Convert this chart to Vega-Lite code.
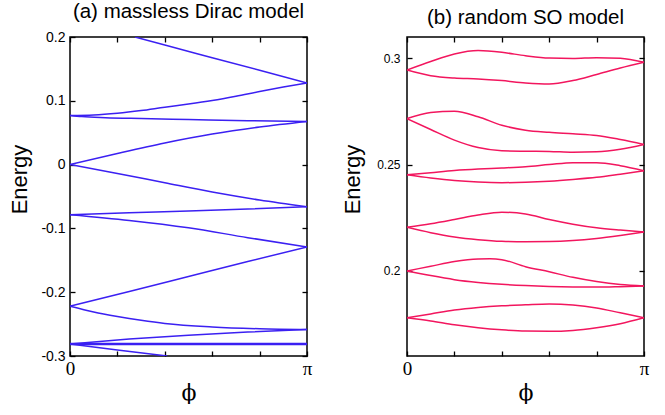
{
  "$schema": "https://vega.github.io/schema/vega-lite/v6.json",
  "padding": {"left": 7, "top": 0, "right": 0, "bottom": 0},
  "background": "white",
  "spacing": 100,
  "bounds": "flush",
  "config": {
    "view": {"stroke": "#000", "strokeWidth": 1.5},
    "axis": {"domain": false, "grid": false, "tickColor": "#000", "tickWidth": 1.3, "labelColor": "#000", "titleColor": "#000", "titleFontWeight": "normal"},
    "title": {"font": "Liberation Sans", "fontSize": 20.5, "fontWeight": "normal", "color": "#000", "anchor": "middle", "offset": 8}
  },
  "datasets": {
    "a": [
      {"s": "L1", "phi": 0.274, "E": 0.2}, {"s": "L1", "phi": 0.4, "E": 0.1874}, {"s": "L1", "phi": 0.6, "E": 0.1676}, {"s": "L1", "phi": 0.8, "E": 0.1478}, {"s": "L1", "phi": 1, "E": 0.128},
      {"s": "L2", "phi": 0, "E": 0.077}, {"s": "L2", "phi": 0.1, "E": 0.0778}, {"s": "L2", "phi": 0.2, "E": 0.0805}, {"s": "L2", "phi": 0.3, "E": 0.0847}, {"s": "L2", "phi": 0.4, "E": 0.09}, {"s": "L2", "phi": 0.5, "E": 0.0948}, {"s": "L2", "phi": 0.6, "E": 0.1003}, {"s": "L2", "phi": 0.7, "E": 0.107}, {"s": "L2", "phi": 0.8, "E": 0.1145}, {"s": "L2", "phi": 0.9, "E": 0.1215}, {"s": "L2", "phi": 1, "E": 0.128},
      {"s": "L3", "phi": 0, "E": 0.077}, {"s": "L3", "phi": 0.05, "E": 0.0752}, {"s": "L3", "phi": 0.15, "E": 0.0735}, {"s": "L3", "phi": 0.3, "E": 0.0722}, {"s": "L3", "phi": 0.5, "E": 0.0707}, {"s": "L3", "phi": 0.75, "E": 0.0688}, {"s": "L3", "phi": 1, "E": 0.0677},
      {"s": "L4", "phi": 0, "E": 0}, {"s": "L4", "phi": 0.2, "E": 0.0175}, {"s": "L4", "phi": 0.4, "E": 0.034}, {"s": "L4", "phi": 0.6, "E": 0.048}, {"s": "L4", "phi": 0.8, "E": 0.059}, {"s": "L4", "phi": 1, "E": 0.0677},
      {"s": "L5", "phi": 0, "E": 0}, {"s": "L5", "phi": 0.2, "E": -0.0138}, {"s": "L5", "phi": 0.4, "E": -0.0285}, {"s": "L5", "phi": 0.6, "E": -0.043}, {"s": "L5", "phi": 0.8, "E": -0.0555}, {"s": "L5", "phi": 1, "E": -0.066},
      {"s": "L6", "phi": 0, "E": -0.0785}, {"s": "L6", "phi": 0.25, "E": -0.0755}, {"s": "L6", "phi": 0.5, "E": -0.0727}, {"s": "L6", "phi": 0.75, "E": -0.0695}, {"s": "L6", "phi": 1, "E": -0.066},
      {"s": "L7", "phi": 0, "E": -0.0785}, {"s": "L7", "phi": 0.25, "E": -0.0875}, {"s": "L7", "phi": 0.5, "E": -0.099}, {"s": "L7", "phi": 0.75, "E": -0.1145}, {"s": "L7", "phi": 1, "E": -0.129},
      {"s": "L8", "phi": 0, "E": -0.222}, {"s": "L8", "phi": 0.25, "E": -0.199}, {"s": "L8", "phi": 0.5, "E": -0.1755}, {"s": "L8", "phi": 0.75, "E": -0.152}, {"s": "L8", "phi": 1, "E": -0.129},
      {"s": "L9", "phi": 0, "E": -0.222}, {"s": "L9", "phi": 0.1, "E": -0.231}, {"s": "L9", "phi": 0.2, "E": -0.238}, {"s": "L9", "phi": 0.3, "E": -0.244}, {"s": "L9", "phi": 0.4, "E": -0.249}, {"s": "L9", "phi": 0.6, "E": -0.2545}, {"s": "L9", "phi": 0.8, "E": -0.2573}, {"s": "L9", "phi": 1, "E": -0.2585},
      {"s": "L10a", "phi": 0, "E": -0.2805}, {"s": "L10a", "phi": 1, "E": -0.2805},
      {"s": "L10b", "phi": 0, "E": -0.2818}, {"s": "L10b", "phi": 1, "E": -0.2818},
      {"s": "L11", "phi": 0, "E": -0.281}, {"s": "L11", "phi": 0.25, "E": -0.2735}, {"s": "L11", "phi": 0.5, "E": -0.2675}, {"s": "L11", "phi": 0.75, "E": -0.2625}, {"s": "L11", "phi": 1, "E": -0.2585},
      {"s": "L12", "phi": 0, "E": -0.281}, {"s": "L12", "phi": 0.2, "E": -0.2905}, {"s": "L12", "phi": 0.41, "E": -0.3}
    ],
    "b": [
      {"s": "R1a", "phi": 0, "E": 0.2945}, {"s": "R1a", "phi": 0.1, "E": 0.2985}, {"s": "R1a", "phi": 0.2, "E": 0.302}, {"s": "R1a", "phi": 0.3, "E": 0.3036}, {"s": "R1a", "phi": 0.4, "E": 0.3028}, {"s": "R1a", "phi": 0.5, "E": 0.3012}, {"s": "R1a", "phi": 0.6, "E": 0.3001}, {"s": "R1a", "phi": 0.7, "E": 0.2999}, {"s": "R1a", "phi": 0.8, "E": 0.3003}, {"s": "R1a", "phi": 0.9, "E": 0.3}, {"s": "R1a", "phi": 1, "E": 0.2981},
      {"s": "R1b", "phi": 0, "E": 0.2945}, {"s": "R1b", "phi": 0.1, "E": 0.2918}, {"s": "R1b", "phi": 0.2, "E": 0.2907}, {"s": "R1b", "phi": 0.3, "E": 0.2903}, {"s": "R1b", "phi": 0.4, "E": 0.2895}, {"s": "R1b", "phi": 0.5, "E": 0.2884}, {"s": "R1b", "phi": 0.6, "E": 0.2879}, {"s": "R1b", "phi": 0.7, "E": 0.2895}, {"s": "R1b", "phi": 0.8, "E": 0.2924}, {"s": "R1b", "phi": 0.9, "E": 0.2954}, {"s": "R1b", "phi": 1, "E": 0.2981},
      {"s": "R2a", "phi": 0, "E": 0.2716}, {"s": "R2a", "phi": 0.1, "E": 0.2745}, {"s": "R2a", "phi": 0.2, "E": 0.2751}, {"s": "R2a", "phi": 0.3, "E": 0.2725}, {"s": "R2a", "phi": 0.4, "E": 0.2685}, {"s": "R2a", "phi": 0.5, "E": 0.2662}, {"s": "R2a", "phi": 0.6, "E": 0.2652}, {"s": "R2a", "phi": 0.7, "E": 0.2645}, {"s": "R2a", "phi": 0.8, "E": 0.2637}, {"s": "R2a", "phi": 0.9, "E": 0.2618}, {"s": "R2a", "phi": 1, "E": 0.2595},
      {"s": "R2b", "phi": 0, "E": 0.2716}, {"s": "R2b", "phi": 0.1, "E": 0.2665}, {"s": "R2b", "phi": 0.2, "E": 0.2615}, {"s": "R2b", "phi": 0.3, "E": 0.258}, {"s": "R2b", "phi": 0.4, "E": 0.2565}, {"s": "R2b", "phi": 0.5, "E": 0.2563}, {"s": "R2b", "phi": 0.6, "E": 0.2562}, {"s": "R2b", "phi": 0.7, "E": 0.2558}, {"s": "R2b", "phi": 0.8, "E": 0.256}, {"s": "R2b", "phi": 0.9, "E": 0.2572}, {"s": "R2b", "phi": 1, "E": 0.2595},
      {"s": "R3a", "phi": 0, "E": 0.2452}, {"s": "R3a", "phi": 0.1, "E": 0.2462}, {"s": "R3a", "phi": 0.2, "E": 0.2472}, {"s": "R3a", "phi": 0.3, "E": 0.2479}, {"s": "R3a", "phi": 0.4, "E": 0.2484}, {"s": "R3a", "phi": 0.5, "E": 0.249}, {"s": "R3a", "phi": 0.6, "E": 0.25}, {"s": "R3a", "phi": 0.7, "E": 0.2509}, {"s": "R3a", "phi": 0.8, "E": 0.2509}, {"s": "R3a", "phi": 0.9, "E": 0.2495}, {"s": "R3a", "phi": 1, "E": 0.2471},
      {"s": "R3b", "phi": 0, "E": 0.2452}, {"s": "R3b", "phi": 0.1, "E": 0.2437}, {"s": "R3b", "phi": 0.2, "E": 0.2425}, {"s": "R3b", "phi": 0.3, "E": 0.2418}, {"s": "R3b", "phi": 0.4, "E": 0.2415}, {"s": "R3b", "phi": 0.5, "E": 0.2417}, {"s": "R3b", "phi": 0.6, "E": 0.2422}, {"s": "R3b", "phi": 0.7, "E": 0.243}, {"s": "R3b", "phi": 0.8, "E": 0.244}, {"s": "R3b", "phi": 0.9, "E": 0.2455}, {"s": "R3b", "phi": 1, "E": 0.2471},
      {"s": "R4a", "phi": 0, "E": 0.2205}, {"s": "R4a", "phi": 0.1, "E": 0.2222}, {"s": "R4a", "phi": 0.2, "E": 0.2242}, {"s": "R4a", "phi": 0.3, "E": 0.2263}, {"s": "R4a", "phi": 0.4, "E": 0.2276}, {"s": "R4a", "phi": 0.5, "E": 0.2268}, {"s": "R4a", "phi": 0.6, "E": 0.2242}, {"s": "R4a", "phi": 0.7, "E": 0.222}, {"s": "R4a", "phi": 0.8, "E": 0.2203}, {"s": "R4a", "phi": 0.9, "E": 0.2192}, {"s": "R4a", "phi": 1, "E": 0.2183},
      {"s": "R4b", "phi": 0, "E": 0.2205}, {"s": "R4b", "phi": 0.1, "E": 0.218}, {"s": "R4b", "phi": 0.2, "E": 0.216}, {"s": "R4b", "phi": 0.3, "E": 0.2147}, {"s": "R4b", "phi": 0.4, "E": 0.2139}, {"s": "R4b", "phi": 0.5, "E": 0.2137}, {"s": "R4b", "phi": 0.6, "E": 0.2138}, {"s": "R4b", "phi": 0.7, "E": 0.2143}, {"s": "R4b", "phi": 0.8, "E": 0.2153}, {"s": "R4b", "phi": 0.9, "E": 0.2167}, {"s": "R4b", "phi": 1, "E": 0.2183},
      {"s": "R5a", "phi": 0, "E": 0.2}, {"s": "R5a", "phi": 0.1, "E": 0.2022}, {"s": "R5a", "phi": 0.2, "E": 0.2044}, {"s": "R5a", "phi": 0.3, "E": 0.2056}, {"s": "R5a", "phi": 0.35, "E": 0.2057}, {"s": "R5a", "phi": 0.4, "E": 0.2053}, {"s": "R5a", "phi": 0.5, "E": 0.202}, {"s": "R5a", "phi": 0.6, "E": 0.1996}, {"s": "R5a", "phi": 0.7, "E": 0.197}, {"s": "R5a", "phi": 0.8, "E": 0.195}, {"s": "R5a", "phi": 0.9, "E": 0.1936}, {"s": "R5a", "phi": 1, "E": 0.1929},
      {"s": "R5b", "phi": 0, "E": 0.2}, {"s": "R5b", "phi": 0.1, "E": 0.1978}, {"s": "R5b", "phi": 0.2, "E": 0.1959}, {"s": "R5b", "phi": 0.3, "E": 0.1946}, {"s": "R5b", "phi": 0.4, "E": 0.1937}, {"s": "R5b", "phi": 0.5, "E": 0.1931}, {"s": "R5b", "phi": 0.6, "E": 0.1927}, {"s": "R5b", "phi": 0.7, "E": 0.1925}, {"s": "R5b", "phi": 0.8, "E": 0.1924}, {"s": "R5b", "phi": 0.9, "E": 0.1926}, {"s": "R5b", "phi": 1, "E": 0.1929},
      {"s": "R6a", "phi": 0, "E": 0.178}, {"s": "R6a", "phi": 0.1, "E": 0.1798}, {"s": "R6a", "phi": 0.2, "E": 0.1816}, {"s": "R6a", "phi": 0.3, "E": 0.1828}, {"s": "R6a", "phi": 0.4, "E": 0.1836}, {"s": "R6a", "phi": 0.5, "E": 0.1841}, {"s": "R6a", "phi": 0.6, "E": 0.1845}, {"s": "R6a", "phi": 0.7, "E": 0.184}, {"s": "R6a", "phi": 0.8, "E": 0.1826}, {"s": "R6a", "phi": 0.9, "E": 0.1803}, {"s": "R6a", "phi": 1, "E": 0.178},
      {"s": "R6b", "phi": 0, "E": 0.178}, {"s": "R6b", "phi": 0.1, "E": 0.1765}, {"s": "R6b", "phi": 0.2, "E": 0.1747}, {"s": "R6b", "phi": 0.3, "E": 0.1733}, {"s": "R6b", "phi": 0.4, "E": 0.1723}, {"s": "R6b", "phi": 0.5, "E": 0.1717}, {"s": "R6b", "phi": 0.6, "E": 0.1716}, {"s": "R6b", "phi": 0.7, "E": 0.172}, {"s": "R6b", "phi": 0.8, "E": 0.1733}, {"s": "R6b", "phi": 0.9, "E": 0.1752}, {"s": "R6b", "phi": 1, "E": 0.178}
    ]
  },
  "hconcat": [
    {
      "title": "(a) massless Dirac model",
      "width": 237,
      "height": 319,
      "data": {"name": "a"},
      "resolve": {"axis": {"x": "independent", "y": "independent"}},
      "layer": [
        {
          "mark": {"type": "line", "color": "#3b20f2", "strokeWidth": 1.5, "interpolate": "monotone", "clip": true},
          "encoding": {
            "x": {"field": "phi", "type": "quantitative", "scale": {"domain": [0, 1], "nice": false},
              "axis": {"orient": "bottom", "values": [0, 0.2, 0.4, 0.6, 0.8, 1], "labelExpr": "datum.value == 0 ? '0' : (datum.value == 1 ? 'π' : '')", "labelFont": "Liberation Serif", "labelFontSize": 19, "labelPadding": 8, "tickSize": -5, "labelFlush": false,
                "title": "ϕ", "titleFont": "DejaVu Serif", "titleFontSize": 22, "titlePadding": 4}},
            "y": {"field": "E", "type": "quantitative", "scale": {"domain": [-0.3, 0.2], "nice": false, "zero": false},
              "axis": {"orient": "left", "values": [-0.3, -0.2, -0.1, 0, 0.1, 0.2], "labelExpr": "'' + datum.value", "labelFont": "Liberation Sans", "labelFontSize": 14, "labelPadding": 10, "tickSize": -5, "labelFlush": false,
                "title": "Energy", "titleFont": "Liberation Sans", "titleFontSize": 22, "titleX": -39, "titleY": 142}},
            "detail": {"field": "s"}
          }
        },
        {
          "mark": {"type": "point", "opacity": 0},
          "encoding": {
            "x": {"field": "phi", "type": "quantitative", "axis": {"orient": "top", "values": [0, 0.2, 0.4, 0.6, 0.8, 1], "labels": false, "title": null, "tickSize": -5}},
            "y": {"field": "E", "type": "quantitative", "axis": {"orient": "right", "values": [-0.3, -0.2, -0.1, 0, 0.1, 0.2], "labels": false, "title": null, "tickSize": -5}}
          }
        }
      ]
    },
    {
      "title": "(b) random SO model",
      "width": 237,
      "height": 319,
      "data": {"name": "b"},
      "resolve": {"axis": {"x": "independent", "y": "independent"}},
      "layer": [
        {
          "mark": {"type": "line", "color": "#f2165e", "strokeWidth": 1.5, "interpolate": "monotone", "clip": true},
          "encoding": {
            "x": {"field": "phi", "type": "quantitative", "scale": {"domain": [0, 1], "nice": false},
              "axis": {"orient": "bottom", "values": [0, 0.2, 0.4, 0.6, 0.8, 1], "labelExpr": "datum.value == 0 ? '0' : (datum.value == 1 ? 'π' : '')", "labelFont": "Liberation Serif", "labelFontSize": 19, "labelPadding": 8, "tickSize": -5, "labelFlush": false,
                "title": "ϕ", "titleFont": "DejaVu Serif", "titleFontSize": 22, "titlePadding": 4}},
            "y": {"field": "E", "type": "quantitative", "scale": {"domain": [0.16, 0.31], "nice": false, "zero": false},
              "axis": {"orient": "left", "values": [0.2, 0.25, 0.3], "labelExpr": "'' + datum.value", "labelFont": "Liberation Sans", "labelFontSize": 12, "labelPadding": 12, "tickSize": -5, "labelFlush": false,
                "title": "Energy", "titleFont": "Liberation Sans", "titleFontSize": 22, "titleX": -43, "titleY": 142}},
            "detail": {"field": "s"}
          }
        },
        {
          "mark": {"type": "point", "opacity": 0},
          "encoding": {
            "x": {"field": "phi", "type": "quantitative", "axis": {"orient": "top", "values": [0, 0.2, 0.4, 0.6, 0.8, 1], "labels": false, "title": null, "tickSize": -5}},
            "y": {"field": "E", "type": "quantitative", "axis": {"orient": "right", "values": [0.2, 0.25, 0.3], "labels": false, "title": null, "tickSize": -5}}
          }
        }
      ]
    }
  ]
}
